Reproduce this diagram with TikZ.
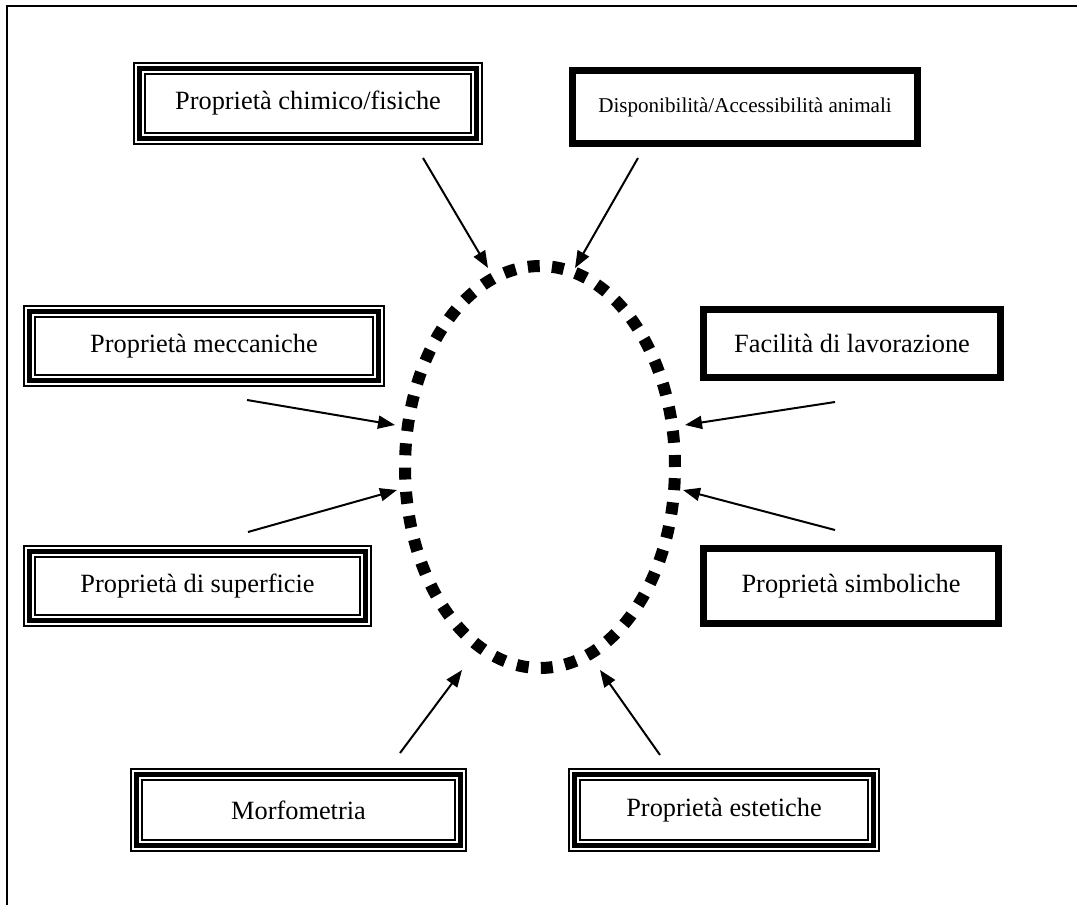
\documentclass[tikz,border=0pt]{standalone}
\usepackage{fontspec}
\setmainfont{Liberation Serif}
\usetikzlibrary{arrows.meta,shapes.geometric}

\tikzset{
  tribox/.style={preaction={draw,line width=0.26cm},
    preaction={draw,white,line width=0.18cm},
    draw,line width=0.1cm,inner sep=0pt,
    font=\fontsize{15}{18}\selectfont},
  boldbox/.style={draw,line width=0.14cm,inner sep=0pt,
    font=\fontsize{15}{18}\selectfont},
  ring/.style={shape=ellipse,draw,line width=0.24cm,
    dash pattern=on 0.24cm off 0.245cm,inner sep=0pt},
  arr/.style={line width=0.04cm,-{Triangle[length=0.34cm,width=0.26cm]}}
}

\begin{document}
\begin{tikzpicture}[x=0.02cm,y=-0.02cm]
        \useasboundingbox (0,0) rectangle (1077,905);
        \draw[line width=0.05cm] (1077,6) -- (7,6) -- (7,905);

        \node[ring,minimum width=5.4cm,minimum height=8.04cm] (hub) at (540,467) {};

        \node[tribox,minimum width=6.74cm,minimum height=1.4cm] (chim) at (308,103.5) {Proprietà chimico/fisiche};
        \node[boldbox,minimum width=6.9cm,minimum height=1.46cm,font=\fontsize{12}{14}\selectfont] (disp) at (745,107) {Disponibilità/Accessibilità animali};
        \node[tribox,minimum width=6.98cm,minimum height=1.38cm] (mecc) at (204,346) {Proprietà meccaniche};
        \node[boldbox,minimum width=5.96cm,minimum height=1.36cm] (lav) at (852,343.5) {Facilità di lavorazione};
        \node[tribox,minimum width=6.72cm,minimum height=1.38cm] (sup) at (197.5,586) {Proprietà di superficie};
        \node[boldbox,minimum width=5.9cm,minimum height=1.5cm] (simb) at (851,586) {Proprietà simboliche};
        \node[tribox,minimum width=6.48cm,minimum height=1.42cm] (morf) at (298.5,810) {Morfometria};
        \node[tribox,minimum width=5.98cm,minimum height=1.42cm] (est) at (724,810) {Proprietà estetiche};

        % arrow ends
        \coordinate (s1) at (423,158);  \coordinate (e1) at (488,268);
        \coordinate (s2) at (638,158);  \coordinate (e2) at (575,268);
        \coordinate (s3) at (247,400);  \coordinate (e3) at (395,425);
        \coordinate (s4) at (248,532);  \coordinate (e4) at (397,490);
        \coordinate (s5) at (835,402);  \coordinate (e5) at (685,425);
        \coordinate (s6) at (835,530);  \coordinate (e6) at (683,490);
        \coordinate (s7) at (400,753);  \coordinate (e7) at (462,670);
        \coordinate (s8) at (660,755);  \coordinate (e8) at (600,670);

        %arrows into the ring
        \path[arr] (s1) edge (e1);
        \path[arr] (s2) edge (e2);
        \path[arr] (s3) edge (e3);
        \path[arr] (s4) edge (e4);
        \path[arr] (s5) edge (e5);
        \path[arr] (s6) edge (e6);
        \path[arr] (s7) edge (e7);
        \path[arr] (s8) edge (e8);
\end{tikzpicture}
\end{document}
